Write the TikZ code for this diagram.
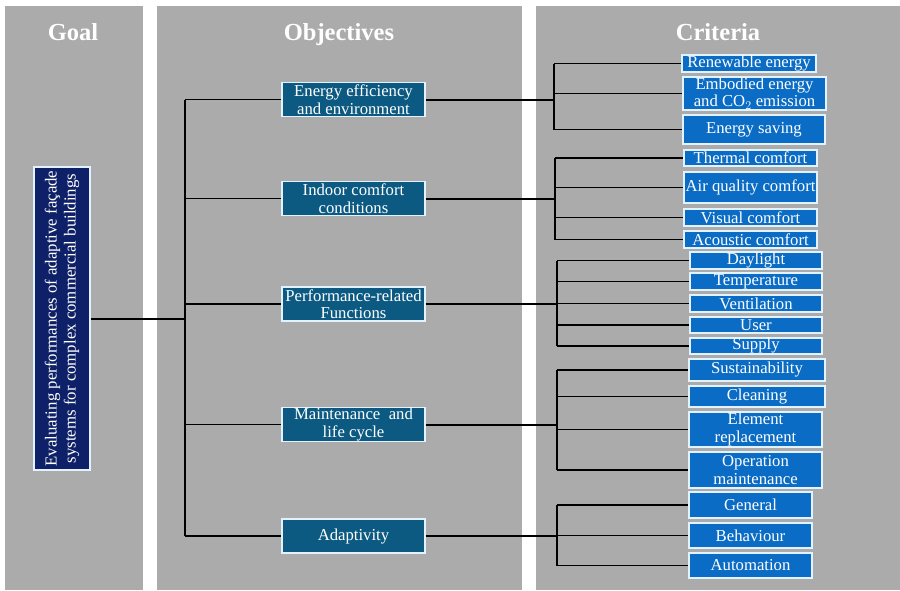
\documentclass[tikz,border=0pt]{standalone}
\usepackage{fontspec}
\setmainfont{Liberation Serif}
\definecolor{panelgray}{HTML}{ABABAB}
\definecolor{goalnavy}{HTML}{0E2168}
\definecolor{objteal}{HTML}{0C5A82}
\definecolor{critblue}{HTML}{0A6CC4}
\definecolor{edgelight}{HTML}{E2F2FF}
\tikzset{
  panel/.style={fill=panelgray, draw=none},
  paneltitle/.style={anchor=base, text=white, font=\fontsize{24.5}{28}\selectfont\bfseries},
  boxbase/.style={draw=edgelight, line width=1.3pt, text=white, inner sep=0pt, align=center,
    font=\fontsize{16.7}{17.5}\selectfont},
  goalbox/.style={boxbase, fill=goalnavy, rotate=90, minimum width=303pt, minimum height=56pt,
    font=\fontsize{16.8}{19}\selectfont},
  objbox/.style={boxbase, fill=objteal, minimum width=143pt, minimum height=34pt},
  critbox/.style={boxbase, fill=critblue},
  link/.style={draw=black, line width=1.4pt},
  trunk/.style={draw=black, line width=2pt},
}
\begin{document}
\begin{tikzpicture}[x=1pt, y=-1pt]
\useasboundingbox (0,0) rectangle (900,590);
\fill[white] (0,0) rectangle (900,590);
% panels
\fill[panel] (5,6) rectangle (143,590);
\fill[panel] (157,6) rectangle (522,590);
\fill[panel] (536,6) rectangle (900,590);
\node[paneltitle] (tg) at (73,40) {Goal};
\node[paneltitle] (to) at (339,40) {Objectives};
\node[paneltitle] (tc) at (718,40) {Criteria};
% goal
\node[goalbox] (goal) at (62,318.5) {Evaluating performances of adaptive façade\\systems for complex commercial buildings};
% objectives
\node[objbox] (o1) at (353.5,99.5) {Energy efficiency\\and environment};
\node[objbox] (o2) at (353.5,198.5) {Indoor comfort\\conditions};
\node[objbox] (o3) at (353.5,304) {Performance-related\\Functions};
\node[objbox] (o4) at (353.5,424.5) {Maintenance\ \ and\\life cycle};
\node[objbox] (o5) at (353.5,536) {Adaptivity};
% criteria group 1
\node[critbox, minimum width=134pt, minimum height=17pt] (c11) at (749,63.5) {Renewable energy};
\node[critbox, minimum width=143pt, minimum height=33pt] (c12) at (754.5,93.5) {Embodied energy\\and CO$_2$ emission};
\node[critbox, minimum width=142pt, minimum height=29pt] (c13) at (754,129.5) {Energy saving};
% group 2
\node[critbox, minimum width=133pt, minimum height=16pt] (c21) at (750.5,158) {Thermal comfort};
\node[critbox, minimum width=133pt, minimum height=31pt] (c22) at (750.5,187.5) {Air quality comfort};
\node[critbox, minimum width=133pt, minimum height=17pt] (c23) at (750.5,217.5) {Visual comfort};
\node[critbox, minimum width=133pt, minimum height=17pt] (c24) at (750.5,239.5) {Acoustic comfort};
% group 3
\node[critbox, minimum width=132pt, minimum height=17pt] (c31) at (756,260.5) {Daylight};
\node[critbox, minimum width=132pt, minimum height=17pt] (c32) at (756,281.5) {Temperature};
\node[critbox, minimum width=132pt, minimum height=17pt] (c33) at (756,303.5) {Ventilation};
\node[critbox, minimum width=132pt, minimum height=16pt] (c34) at (756,325) {User};
\node[critbox, minimum width=132pt, minimum height=16pt] (c35) at (756,346) {Supply};
% group 4
\node[critbox, minimum width=136pt, minimum height=22pt] (c41) at (757,370) {Sustainability};
\node[critbox, minimum width=136pt, minimum height=21pt] (c42) at (757,396.5) {Cleaning};
\node[critbox, minimum width=133pt, minimum height=35pt] (c43) at (755.5,429.5) {Element\\replacement};
\node[critbox, minimum width=133pt, minimum height=36pt] (c44) at (755.5,470) {Operation\\maintenance};
% group 5
\node[critbox, minimum width=123pt, minimum height=26pt] (c51) at (750.5,505) {General};
\node[critbox, minimum width=123pt, minimum height=25pt] (c52) at (750.5,535.5) {Behaviour};
\node[critbox, minimum width=123pt, minimum height=25pt] (c53) at (750.5,565.5) {Automation};
% bus coordinates
\coordinate (gb) at (185,0);
\coordinate (b1) at (554,0);
\coordinate (b2) at (555,0);
\coordinate (b3) at (557,0);
\coordinate (b4) at (557,0);
\coordinate (b5) at (557,0);
% goal to objectives
\draw[trunk] (goal.south) -- (goal.south -| gb);
\draw[link] (o1.west -| gb) -- (o5.west -| gb);
\foreach \o in {o1,o2,o3,o4,o5} \draw[link] (\o.west -| gb) -- (\o.west);
% objective to criteria
\draw[trunk] (o1.east) -- (o1.east -| b1);
\draw[link] (c11.west -| b1) -- (c13.west -| b1);
\foreach \c in {c11,c12,c13} \draw[link] (\c.west -| b1) -- (\c.west);
\draw[trunk] (o2.east) -- (o2.east -| b2);
\draw[link] (c21.west -| b2) -- (c24.west -| b2);
\foreach \c in {c21,c22,c23,c24} \draw[link] (\c.west -| b2) -- (\c.west);
\draw[trunk] (o3.east) -- (o3.east -| b3);
\draw[link] (c31.west -| b3) -- (c35.west -| b3);
\foreach \c in {c31,c32,c33,c34,c35} \draw[link] (\c.west -| b3) -- (\c.west);
\draw[trunk] (o4.east) -- (o4.east -| b4);
\draw[link] (c41.west -| b4) -- (c44.west -| b4);
\foreach \c in {c41,c42,c43,c44} \draw[link] (\c.west -| b4) -- (\c.west);
\draw[trunk] (o5.east) -- (o5.east -| b5);
\draw[link] (c51.west -| b5) -- (c53.west -| b5);
\foreach \c in {c51,c52,c53} \draw[link] (\c.west -| b5) -- (\c.west);
\end{tikzpicture}
\end{document}
